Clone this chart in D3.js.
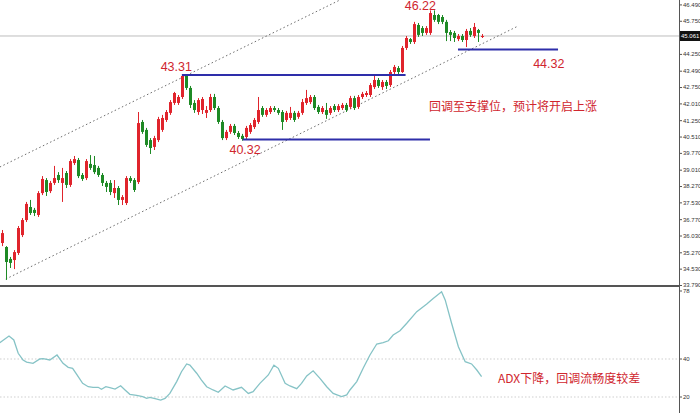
<!DOCTYPE html>
<html><head><meta charset="utf-8">
<script src="https://cdn.jsdelivr.net/npm/d3@7"></script>
<style>body{margin:0;background:#fff}svg{display:block}</style>
</head><body>
<svg id="c" width="700" height="413"></svg>
<script>
// ---- data ----
const opens  = [35.69,35.51,34.97,34.92,35.24,36.05,36.73,37.32,37.19,36.96,37.95,38.54,38.04,38.41,38.77,38.41,38.86,38.32,39.31,39.45,38.77,38.63,39.27,39.22,39.09,38.77,38.41,38.41,37.95,38.18,37.64,37.50,38.63,38.54,38.45,41.17,40.81,40.35,40.04,40.35,40.81,41.26,41.58,42.03,42.03,42.30,43.25,42.71,42.03,41.62,41.71,41.58,41.71,42.30,41.80,41.17,40.44,40.72,40.99,40.67,40.54,40.49,40.72,40.94,41.17,41.80,41.49,41.62,41.80,41.71,41.62,41.26,41.35,41.58,41.40,41.58,42.03,42.07,42.30,41.85,41.62,41.71,41.58,41.89,41.71,41.80,41.94,41.85,42.25,41.85,42.30,42.39,42.39,42.75,43.07,42.75,42.98,42.84,43.43,43.61,43.43,44.52,44.92,44.79,45.56,45.42,45.20,45.20,46.01,46.01,45.92,45.70,45.24,45.20,44.92,45.06,44.88,45.29,45.06,45.33,45.02];
const highs  = [36.28,35.55,35.06,35.37,36.46,36.82,37.55,37.64,37.28,38.04,38.72,38.63,38.50,39.18,38.90,39.09,38.95,39.49,39.63,39.54,38.86,39.49,39.67,39.63,39.18,38.86,38.50,38.54,38.54,38.27,37.86,38.72,38.72,38.63,41.62,41.26,40.90,40.44,40.54,41.40,41.49,41.71,42.16,42.53,42.39,43.31,43.30,42.80,42.16,42.25,42.30,41.89,42.44,42.44,41.89,41.26,40.81,41.08,41.08,40.76,40.63,40.99,41.12,41.35,42.30,41.89,41.80,41.89,41.89,41.80,41.71,41.67,41.85,41.67,41.67,42.21,42.62,42.39,42.39,41.94,41.89,42.03,41.89,41.98,41.98,42.03,42.03,42.35,42.35,42.39,42.53,42.57,42.93,43.25,43.16,43.07,43.07,43.52,43.75,43.70,44.61,45.06,44.97,45.70,45.65,45.51,45.51,46.22,46.22,46.06,46.01,45.79,45.33,45.29,45.15,45.15,45.38,45.42,45.65,45.38,45.15];
const lows   = [35.55,34.02,34.56,34.51,35.15,35.96,36.64,36.96,36.91,36.87,37.86,37.82,37.95,38.32,38.41,37.55,38.18,38.23,39.22,38.63,38.50,38.54,39.00,38.81,38.68,38.27,38.00,37.86,37.73,37.41,37.41,37.41,38.41,38.00,38.36,40.63,40.04,39.72,39.90,40.26,40.72,41.17,41.49,41.94,41.94,42.21,42.62,41.80,41.58,41.49,41.53,41.35,41.62,41.71,41.08,40.35,40.35,40.63,40.58,40.40,40.32,40.40,40.63,40.85,41.08,41.40,41.40,41.53,41.62,41.49,40.81,41.17,41.26,41.17,41.31,41.49,41.94,41.98,41.71,41.53,41.53,41.31,41.49,41.62,41.62,41.71,41.62,41.76,41.71,41.76,42.21,42.30,42.30,42.66,42.71,42.62,42.66,42.75,43.34,43.34,43.39,44.43,44.70,44.70,45.02,45.06,45.11,45.11,45.70,45.60,45.60,44.83,44.83,44.79,44.83,44.79,44.56,45.02,44.97,44.79,44.97];
const closes = [36.14,34.83,34.79,35.28,36.37,36.73,37.46,37.05,37.05,37.95,38.59,38.00,38.41,38.63,38.54,38.63,38.32,39.40,39.49,38.72,38.59,39.40,39.09,38.90,38.77,38.41,38.23,38.00,38.18,37.64,37.77,38.63,38.50,38.09,41.12,40.72,40.13,39.99,40.44,41.30,41.35,41.62,42.07,42.48,42.30,43.25,42.71,41.94,41.71,42.16,42.21,41.71,42.30,41.80,41.17,40.44,40.72,40.99,40.67,40.49,40.40,40.90,41.03,41.26,41.71,41.49,41.71,41.80,41.71,41.58,41.17,41.58,41.58,41.26,41.58,42.07,42.25,42.30,41.80,41.62,41.80,41.49,41.80,41.71,41.89,41.94,41.71,42.25,41.80,42.30,42.44,42.48,42.84,43.07,42.80,42.98,42.80,43.43,43.66,43.43,44.52,44.97,44.79,45.60,45.11,45.20,45.42,46.10,45.79,45.70,45.70,45.20,45.11,44.97,45.06,44.88,45.29,45.11,45.47,45.20,45.06];

// ADX trace: candle index positions and values
const adxIdx = [-0.5,1.8,3,4.1,5.3,6.2,7.8,9.5,10.3,12,13.8,15.3,16.6,17.7,18.8,20.2,21.6,22.8,24.1,24.9,26,27,28.3,29.7,30.8,32,33.7,35.2,36.2,37,38.3,39.7,40.8,42,43.7,44.9,46.2,47,48.7,49.9,51.2,52.8,54.1,55.8,57.8,59.9,61.6,62.8,64.5,66.6,68,69.1,70.8,72,73.7,74.9,76.2,77.8,79.5,81.2,82.8,84.9,86.2,87,88.7,90.3,92,93.7,95.3,96.6,97.8,99.5,101.2,103.7,106.2,107.8,109.9,110.8,112.4,114.1,115.8,117.4,118.7,119.9];
const adxVal = [48.6,52.1,50.0,43.0,39.5,38.4,37.7,40.0,40.2,39.5,42.1,37.7,35.6,35.1,31.6,27.2,25.4,25.1,25.1,24.1,25.4,24.9,24.2,25.9,23.7,21.4,20.9,20.2,19.3,19.8,19.1,18.4,19.3,21.9,28.1,33.3,37.4,36.8,32.5,28.9,25.4,23.7,22.5,25.8,23.7,25.1,21.9,22.8,27.2,31.6,36.7,35.1,27.2,25.8,24.4,27.2,31.1,33.8,29.8,25.4,21.9,20.2,21.1,23.7,28.1,35.1,42.1,47.9,48.6,49.6,52.6,54.9,58.8,64.9,68.9,71.9,75.4,71.1,58.8,46.5,38.6,37.4,34.2,30.7];

// price axis tick labels
const priceTicks = ["46.490","45.750","44.250","43.490","42.750","42.010","41.250","40.510","39.770","39.010","38.270","37.530","36.770","36.030","35.270","34.530","33.790"];
const adxTicks = ["78","40","20"];
const lastPrice = 45.061;

// support / resistance levels [startIndex, endIndex, level]
const levelStart = [45, 60.2, 114];
const levelEnd   = [100.9, 107, 139];
const levelPrice = [43.29, 40.38, 44.45];
// annotation labels
const noteText  = ["43.31","40.32","46.22","44.32"];
const noteIdx   = [43.6, 60.8, 104.6, 136.7];
const notePrice = [43.47, 39.72, 46.24, 43.61];

// channel lines: [index, price] endpoints
const chanLower = [[1, 34.06],[129, 45.51]];
const chanUpper = [[-0.5, 39.13],[84.5, 46.69]];

const noteMain = "回调至支撑位，预计将开启上涨";
const noteAdx  = "ADX下降，回调流畅度较差";

// ---- drawing ----
const svg = d3.select("#c");
const W = 700, H = 413, axisX = 679;
svg.append("rect").attr("width",W).attr("height",H).attr("fill","#fff");

const x = d3.scaleLinear().domain([0,120]).range([1.8,482]);
const y = d3.scaleLinear().domain([33.79,46.69]).range([285,0]);
const ya = d3.scaleLinear().domain([20,40]).range([397,359]);

const RED = "#e0242c", GREEN = "#1e8a25", BLUE = "#2e2eaa", TXT = "#d0262e";

// current price line
svg.append("line").attr("x1",0).attr("x2",axisX).attr("y1",y(lastPrice)).attr("y2",y(lastPrice))
  .attr("stroke","#bdbdbd").attr("stroke-width",1);

// channel lines
[chanLower, chanUpper].forEach(c => {
  svg.append("line").attr("x1",x(c[0][0])).attr("y1",y(c[0][1]))
    .attr("x2",x(c[1][0])).attr("y2",y(c[1][1]))
    .attr("stroke","#6d6d6d").attr("stroke-width",1).attr("stroke-dasharray","1.5,2.5");
});

// candles
const cd = d3.range(opens.length).map(i => ({i, o:opens[i], h:highs[i], l:lows[i], c:closes[i]}));
const g = svg.append("g");
g.selectAll("line.w").data(cd).join("line").attr("class","w")
  .attr("x1",d=>Math.round(x(d.i))+0.5).attr("x2",d=>Math.round(x(d.i))+0.5)
  .attr("y1",d=>y(d.h)).attr("y2",d=>y(d.l))
  .attr("stroke",d=>d.c>=d.o?RED:GREEN).attr("stroke-width",1);
g.selectAll("rect").data(cd).join("rect")
  .attr("x",d=>Math.round(x(d.i))-1).attr("width",3)
  .attr("y",d=>y(Math.max(d.o,d.c)))
  .attr("height",d=>Math.max(1,Math.abs(y(d.o)-y(d.c))))
  .attr("fill",d=>d.c>=d.o?RED:GREEN);

// levels
levelPrice.forEach((p,k) => {
  svg.append("line").attr("x1",x(levelStart[k])).attr("x2",x(levelEnd[k]))
    .attr("y1",y(p)).attr("y2",y(p)).attr("stroke",BLUE).attr("stroke-width",2);
});

// labels
noteText.forEach((t,k) => {
  svg.append("text").attr("x",x(noteIdx[k])).attr("y",y(notePrice[k]))
    .attr("text-anchor","middle").attr("font-family","Liberation Sans, Arial, sans-serif")
    .attr("font-size",12.5).attr("fill",TXT).text(t);
});
svg.append("text").attr("x",429).attr("y",111).attr("font-family","Noto Sans CJK SC, sans-serif")
  .attr("font-size",12).attr("fill",TXT).text(noteMain);

// separator
svg.append("line").attr("x1",0).attr("x2",axisX+1).attr("y1",286).attr("y2",286)
  .attr("stroke","#555").attr("stroke-width",2);

// ADX panel gridlines
[40,20].forEach(v => {
  svg.append("line").attr("x1",0).attr("x2",axisX).attr("y1",ya(v)).attr("y2",ya(v))
    .attr("stroke","#cfcfcf").attr("stroke-width",1).attr("stroke-dasharray","1.5,2");
});
// ADX line
const adx = adxIdx.map((d,i)=>[d, adxVal[i]]);
svg.append("path").datum(adx)
  .attr("d", d3.line().x(d=>x(d[0])).y(d=>ya(d[1])))
  .attr("fill","none").attr("stroke","#86c3c6").attr("stroke-width",1.3);
svg.append("text").attr("x",498).attr("y",383).attr("font-family","Noto Sans CJK SC, sans-serif")
  .attr("font-size",12).attr("fill",TXT).text(noteAdx);

// right axis
svg.append("line").attr("x1",axisX+0.5).attr("x2",axisX+0.5).attr("y1",0).attr("y2",H)
  .attr("stroke","#555").attr("stroke-width",1);
const ax = svg.append("g").attr("transform",`translate(${axisX},0)`)
  .call(d3.axisRight(y).tickValues(priceTicks.map(Number)).tickSize(3).tickSizeOuter(0)
    .tickFormat((d,i)=>priceTicks[i]));
ax.select(".domain").remove();
ax.selectAll("line").attr("stroke","#555");
ax.selectAll("text").attr("font-size",6).attr("font-family","Liberation Sans, Arial, sans-serif")
  .attr("fill","#333").attr("x",4);

const axa = svg.append("g").attr("transform",`translate(${axisX},0)`)
  .call(d3.axisRight(ya).tickValues(adxTicks.map(Number)).tickSize(3).tickSizeOuter(0)
    .tickFormat((d,i)=>adxTicks[i]));
axa.select(".domain").remove();
axa.selectAll("line").attr("stroke","#555");
axa.selectAll(".tick").attr("transform",d=>`translate(0,${Math.max(ya(d),291)})`);
axa.selectAll("text").attr("font-size",6).attr("font-family","Liberation Sans, Arial, sans-serif")
  .attr("fill","#333").attr("x",4);

// current price box
svg.append("rect").attr("x",axisX+1).attr("y",y(lastPrice)-5).attr("width",21).attr("height",10).attr("fill","#111");
svg.append("text").attr("x",axisX+2).attr("y",y(lastPrice)+2.2).attr("font-size",6)
  .attr("font-family","Liberation Sans, Arial, sans-serif").attr("fill","#fff").text(lastPrice.toFixed(3));
</script>
</body></html>
